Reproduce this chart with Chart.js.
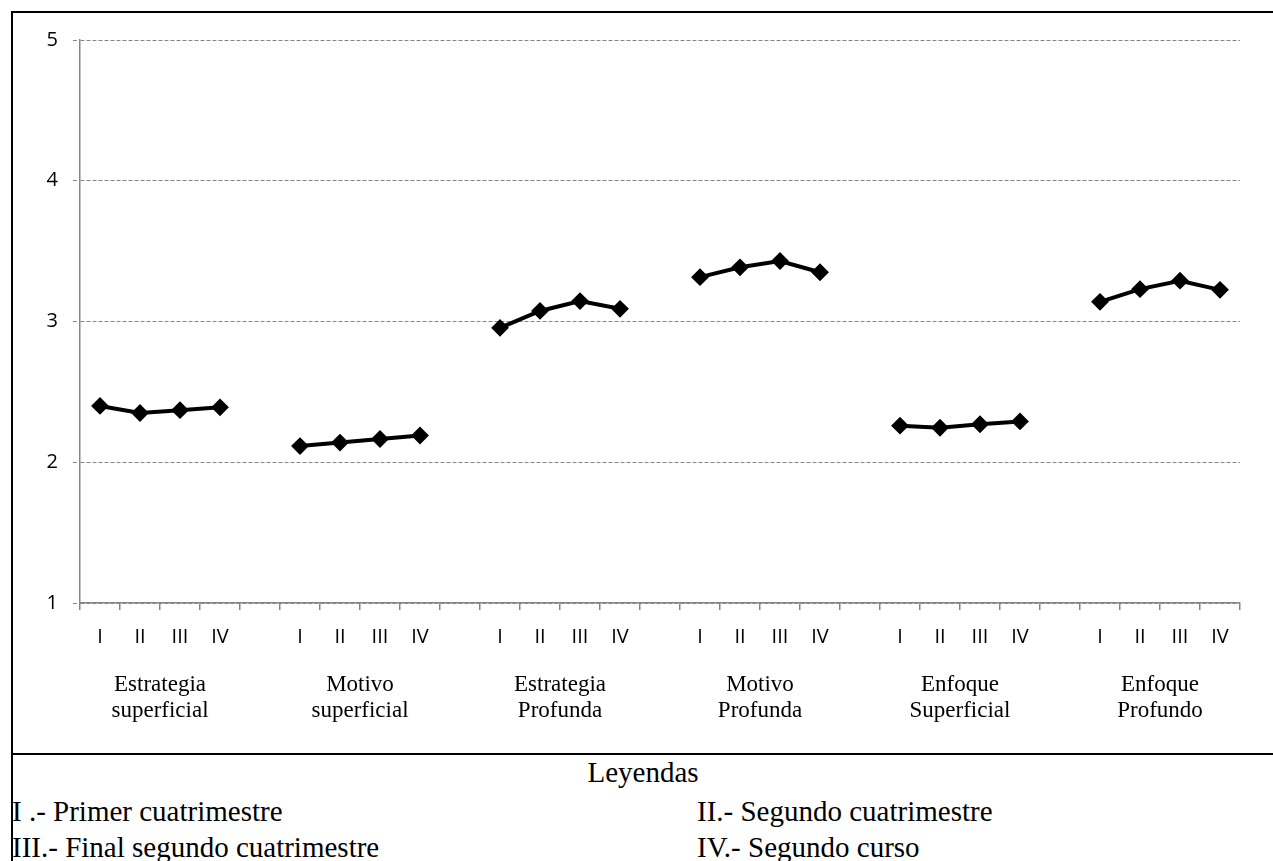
<!DOCTYPE html>
<html>
<head>
<meta charset="utf-8">
<script src="https://cdn.jsdelivr.net/npm/chart.js@4/dist/chart.umd.min.js"></script>
<style>
  html, body { margin: 0; padding: 0; background: #fff; width: 1273px; height: 861px; overflow: hidden; }
  .line { position: absolute; background: #000; }
  #wrap { position: absolute; left: 13px; top: 13px; width: 1260px; height: 740px; }
  .leg { position: absolute; font-family: "Liberation Serif", "Times New Roman", serif; font-size: 29px; line-height: 36px; color: #000; white-space: nowrap; }
</style>
</head>
<body>
<div class="line" style="left:11px; top:11px; width:1262px; height:2px;"></div>
<div class="line" style="left:11px; top:11px; width:2px; height:850px;"></div>
<div class="line" style="left:11px; top:753px; width:1262px; height:2px;"></div>
<div id="wrap"><canvas id="c"></canvas></div>
<div class="leg" style="left:13px; width:1260px; top:754px; text-align:center;">Leyendas</div>
<div class="leg" style="left:12px; top:793px;">I .- Primer cuatrimestre</div>
<div class="leg" style="left:697px; top:793px;">II.- Segundo cuatrimestre</div>
<div class="leg" style="left:12px; top:829px;">III.- Final segundo cuatrimestre</div>
<div class="leg" style="left:697px; top:829px;">IV.- Segundo curso</div>
<script>
// Sub-categories within each group
const periods = ['I', 'II', 'III', 'IV'];
// Group names (two lines each)
const groups = [
  ['Estrategia', 'superficial'],
  ['Motivo', 'superficial'],
  ['Estrategia', 'Profunda'],
  ['Motivo', 'Profunda'],
  ['Enfoque', 'Superficial'],
  ['Enfoque', 'Profundo']
];
// Values per group (I, II, III, IV)
const estrategiaSuperficial = [2.40, 2.35, 2.37, 2.39];
const motivoSuperficial     = [2.115, 2.14, 2.165, 2.19];
const estrategiaProfunda    = [2.955, 3.075, 3.145, 3.09];
const motivoProfunda        = [3.315, 3.385, 3.43, 3.35];
const enfoqueSuperficial    = [2.26, 2.245, 2.27, 2.29];
const enfoqueProfundo       = [3.14, 3.23, 3.29, 3.225];
// Y axis ticks
const yTicks = [1, 2, 3, 4, 5];

const groupValues = [estrategiaSuperficial, motivoSuperficial, estrategiaProfunda,
                     motivoProfunda, enfoqueSuperficial, enfoqueProfundo];

// Build flat category list: I II III IV (gap) ... without trailing gap
const labels = [];
const data = [];
groupValues.forEach((vals, g) => {
  periods.forEach((p, i) => { labels.push(p); data.push(vals[i]); });
  if (g < groupValues.length - 1) { labels.push(''); data.push(null); }
});
const nSlots = labels.length;
const groupCenters = groups.map((_, g) => g * (periods.length + 1) + (periods.length - 1) / 2);

const GRAY = '#868686';
const SANS = '"Open Sans", "DejaVu Sans", sans-serif';
const SERIF = '"Liberation Serif", "Times New Roman", serif';

new Chart(document.getElementById('c'), {
  type: 'line',
  data: {
    labels: labels,
    datasets: [{
      data: data,
      borderColor: '#000',
      backgroundColor: '#000',
      borderWidth: 4,
      pointStyle: 'rectRot',
      pointRadius: 7.5,
      pointBorderWidth: 2,
      pointBackgroundColor: '#000',
      pointBorderColor: '#000',
      spanGaps: false,
      tension: 0
    }]
  },
  options: {
    responsive: true,
    maintainAspectRatio: false,
    animation: false,
    layout: { padding: { top: 27, right: 33, left: 0, bottom: 0 } },
    plugins: { legend: { display: false }, tooltip: { enabled: false } },
    scales: {
      x: {
        type: 'category',
        position: 'bottom',
        weight: 1,
        offset: true,
        grid: { offset: true, drawOnChartArea: false, drawTicks: true, tickLength: 7, color: GRAY, lineWidth: 1.5 },
        border: { display: true, color: GRAY, width: 1.5 },
        ticks: { color: '#000', font: { family: SANS, size: 20 }, padding: 15, autoSkip: false, maxRotation: 0, minRotation: 0 },
        afterFit: (s) => { s.height = 50; }
      },
      x2: {
        type: 'linear',
        position: 'bottom',
        weight: 2,
        min: -0.5,
        max: nSlots - 0.5,
        grid: { display: false, drawTicks: false },
        border: { display: false },
        afterBuildTicks: (s) => { s.ticks = groupCenters.map(v => ({ value: v })); },
        ticks: {
          color: '#000',
          font: { family: SERIF, size: 23, lineHeight: 1.17 },
          padding: 18,
          autoSkip: false,
          maxRotation: 0,
          callback: (v) => { const g = groupCenters.indexOf(v); return g >= 0 ? groups[g] : ''; }
        },
        afterFit: (s) => { s.height = 100; }
      },
      y: {
        min: 1,
        max: 5,
        afterBuildTicks: (s) => { s.ticks = yTicks.map(v => ({ value: v })); },
        grid: { color: GRAY, lineWidth: 1, tickLength: 7, tickBorderDash: [4, 2], drawTicks: true },
        border: { display: true, color: GRAY, width: 1.5, dash: [4, 2] },
        ticks: { color: '#000', font: { family: SANS, size: 20 }, padding: 15 },
        afterFit: (s) => { s.width = 67; }
      }
    }
  }
});
</script>
</body>
</html>
